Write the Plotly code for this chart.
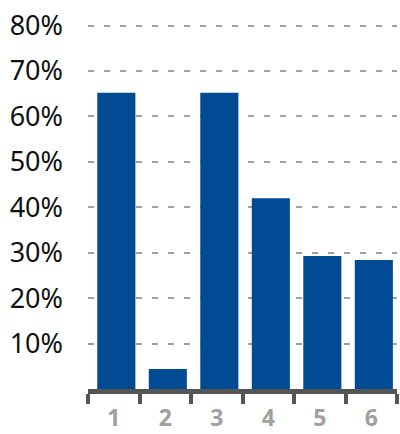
import plotly.graph_objects as go

# Share of respondents per group
categories = ["1", "2", "3", "4", "5", "6"]
values = [0.652, 0.044, 0.652, 0.420, 0.293, 0.284]

y_ticks = [0.1, 0.2, 0.3, 0.4, 0.5, 0.6, 0.7, 0.8]
y_tick_labels = ["10%", "20%", "30%", "40%", "50%", "60%", "70%", "80%"]

BAR_BLUE = "#004b94"

fig = go.Figure(
    go.Bar(
        x=categories,
        y=values,
        marker=dict(color=BAR_BLUE, line=dict(width=0)),
        width=0.74,
        offset=-0.32,
        hoverinfo="skip",
    )
)

fig.update_layout(
    width=400,
    height=434,
    margin=dict(l=88, r=3, t=21, b=45),
    paper_bgcolor="white",
    plot_bgcolor="white",
    showlegend=False,
    font=dict(family="Noto Sans", color="#111111"),
)

fig.update_xaxes(
    type="category",
    automargin=False,
    tickson="boundaries",
    ticks="outside",
    ticklen=10,
    tickwidth=4,
    tickcolor="#555555",
    showline=True,
    linewidth=5,
    linecolor="#555555",
    showgrid=False,
    tickfont=dict(size=23, color="#a0a0a0", family="Noto Sans", weight="bold"),
    ticklabelstandoff=4,
)

fig.update_yaxes(
    range=[0, 0.81],
    automargin=False,
    tickvals=y_ticks,
    ticktext=y_tick_labels,
    showline=False,
    zeroline=False,
    ticks="",
    showgrid=True,
    gridcolor="#a0a0a0",
    gridwidth=2,
    griddash="6px,10px",
    tickfont=dict(size=27, color="#111111", family="Noto Sans"),
    ticklabelstandoff=24,
)

fig.write_html("out.html")
